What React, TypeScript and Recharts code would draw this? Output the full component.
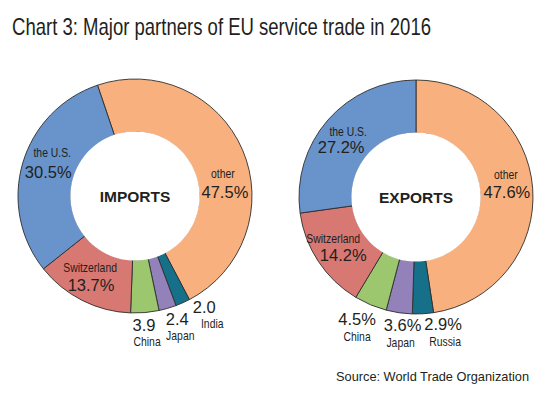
import React from 'react';
import { PieChart, Pie, Cell } from 'recharts';

// EU service trade 2016, shares in %
const importPartners = ['other', 'India', 'Japan', 'China', 'Switzerland', 'the U.S.'];
const importShares = [47.5, 2.0, 2.4, 3.9, 13.7, 30.5];
const exportPartners = ['other', 'Russia', 'Japan', 'China', 'Switzerland', 'the U.S.'];
const exportShares = [47.6, 2.9, 3.6, 4.5, 14.2, 27.2];

const PARTNER_COLORS = {
  other: '#F8B07E',
  'the U.S.': '#6893CB',
  Switzerland: '#D87873',
  China: '#9CC76F',
  Japan: '#9382B9',
  India: '#17708A',
  Russia: '#17708A',
};

// label placement: radius, angle nudge vs slice middle, name offset
const importLabelLayout = [
  { r: 90, turn: 20.7, nameDx: -2, nameDy: -19 },
  { r: 131, turn: -7.8, nameDx: 8, nameDy: 16 },
  { r: 130, turn: -2.8, nameDx: 3, nameDy: 16 },
  { r: 129, turn: 0.8, nameDx: 3, nameDy: 16 },
  { r: 99, turn: -0.5, nameDx: -1, nameDy: -18 },
  { r: 90, turn: -1, nameDx: 4, nameDy: -20 },
];
const exportLabelLayout = [
  { r: 91, turn: 1.2, nameDx: -1, nameDy: -18 },
  { r: 130, turn: -8.6, nameDx: 2, nameDy: 17 },
  { r: 129, turn: -2.3, nameDx: -2, nameDy: 17 },
  { r: 135.5, turn: 2.9, nameDx: 0, nameDy: 17 },
  { r: 93, turn: -5, nameDx: -10, nameDy: -17 },
  { r: 90, turn: -7.3, nameDx: 7, nameDy: -16 },
];

const toRows = (names, shares) => names.map((name, i) => ({ name, value: shares[i] }));
const importData = toRows(importPartners, importShares);
const exportData = toRows(exportPartners, exportShares);

const FONT = '"Liberation Sans", Arial, sans-serif';
const RAD = Math.PI / 180;

const makeLabel = (layout, pctOnSmall) => (props) => {
  const { cx, cy, midAngle, index, name, value } = props;
  const l = layout[index];
  const theta = (90 - midAngle + l.turn) * RAD;
  const x = cx + l.r * Math.sin(theta);
  const y = cy - l.r * Math.cos(theta);
  const small = value < 5;
  const num = value.toFixed(1) + (small && !pctOnSmall ? '' : '%');
  return (
    <g>
      <text x={x} y={y} textAnchor="middle" dominantBaseline="central"
        fontFamily={FONT} fontSize={16.5} fill="#231f20">{num}</text>
      <text transform={`translate(${x + l.nameDx},${y + l.nameDy}) scale(0.8,1)`}
        textAnchor="middle" dominantBaseline="central"
        fontFamily={FONT} fontSize={13} fill="#231f20">{name}</text>
    </g>
  );
};

const centerLabel = (title) => (props) => (
  <text x={props.cx} y={props.cy} textAnchor="middle" dominantBaseline="central"
    fontFamily={FONT} fontWeight="bold" fontSize={15.5} fill="#231f20">{title}</text>
);

const Donut = ({ data, cx, cy, startAngle, layout, pctOnSmall, title }) => [
  <Pie key={title + '-ring'} data={data} dataKey="value" nameKey="name" cx={cx} cy={cy}
    innerRadius={64} outerRadius={117} startAngle={startAngle} endAngle={startAngle - 360}
    stroke="#2e2e2e" strokeWidth={0.9} label={makeLabel(layout, pctOnSmall)} labelLine={false}
    isAnimationActive={false}>
    {data.map((d) => <Cell key={d.name} fill={PARTNER_COLORS[d.name]} />)}
  </Pie>,
  <Pie key={title + '-hole'} data={[{ name: title, value: 1 }]} dataKey="value" cx={cx} cy={cy}
    innerRadius={0} outerRadius={64.6} fill="#ffffff" stroke="none"
    label={centerLabel(title)} labelLine={false} isAnimationActive={false} />,
];

export default function App() {
  return (
    <div style={{ position: 'relative', width: 554, height: 395, background: '#fff' }}>
      <style>{'body{margin:0}'}</style>
      <svg width={554} height={60} style={{ position: 'absolute', left: 0, top: 0 }}>
        <text x={12} y={35} fontFamily={FONT} fontSize={24} fill="#231f20"
          textLength={419} lengthAdjust="spacingAndGlyphs">
          Chart 3: Major partners of EU service trade in 2016
        </text>
      </svg>
      <PieChart width={554} height={395}>
        {Donut({ data: importData, cx: 130, cy: 191, startAngle: 108.7, layout: importLabelLayout, pctOnSmall: false, title: 'IMPORTS' })}
        {Donut({ data: exportData, cx: 411, cy: 192, startAngle: 90, layout: exportLabelLayout, pctOnSmall: true, title: 'EXPORTS' })}
      </PieChart>
      <svg width={554} height={30} style={{ position: 'absolute', left: 0, top: 362 }}>
        <text x={336} y={19} fontFamily={FONT} fontSize={13} fill="#231f20"
          textLength={193} lengthAdjust="spacingAndGlyphs">
          Source: World Trade Organization
        </text>
      </svg>
    </div>
  );
}
